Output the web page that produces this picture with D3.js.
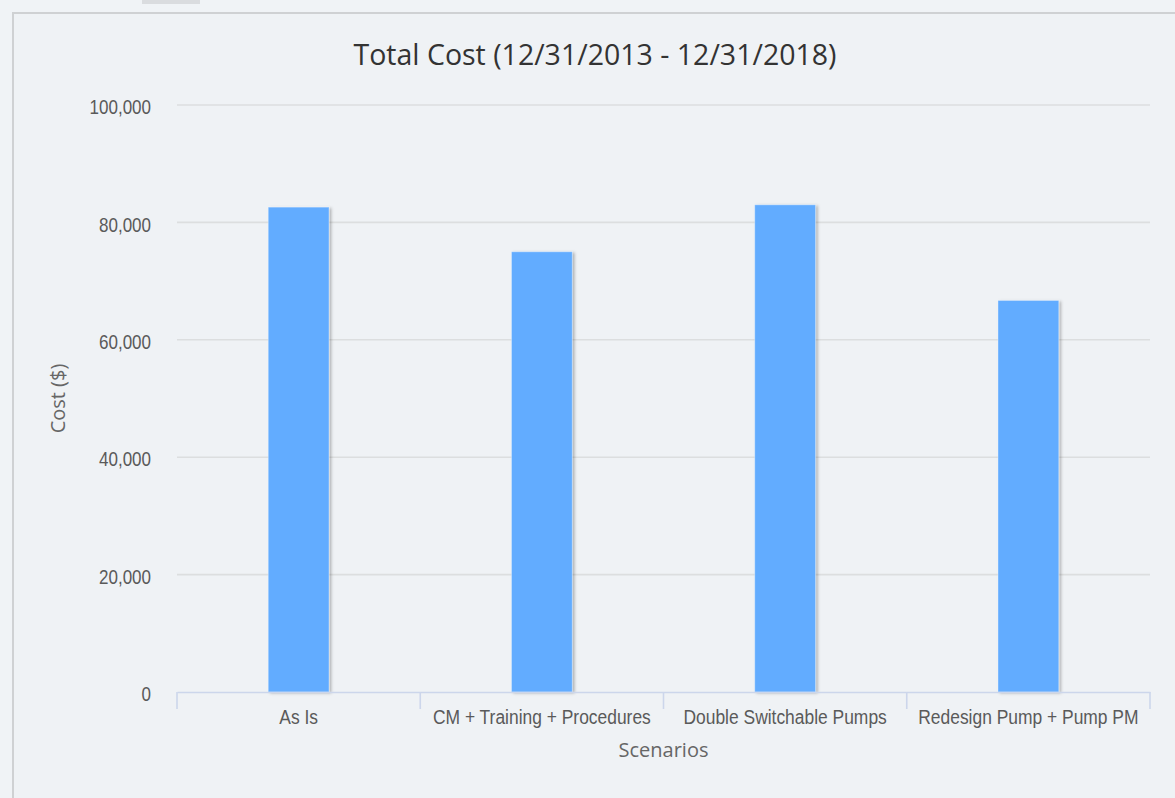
<!DOCTYPE html>
<html>
<head>
<meta charset="utf-8">
<script src="https://cdn.jsdelivr.net/npm/d3@7"></script>
<style>
  html, body { margin: 0; padding: 0; background: #eff2f5; }
  svg { display: block; }
</style>
</head>
<body>
<script>
const categories = ["As Is", "CM + Training + Procedures", "Double Switchable Pumps", "Redesign Pump + Pump PM"];
const costValues = [82600, 75000, 83000, 66700];
const yTicks = [0, 20000, 40000, 60000, 80000, 100000];
const chartTitle = "Total Cost (12/31/2013 - 12/31/2018)";
const xAxisTitle = "Scenarios";
const yAxisTitle = "Cost ($)";

(function () {
const W = 1175, H = 798;
const NARROW = 0.83;
const labelFont = "'Liberation Sans', Arial, sans-serif";
const svg = d3.select("body").append("svg").attr("width", W).attr("height", H);

const defs = svg.append("defs");
const f = defs.append("filter").attr("id", "shadow").attr("x", "-20%").attr("y", "-5%").attr("width", "140%").attr("height", "110%");
f.append("feDropShadow").attr("dx", 2).attr("dy", 1).attr("stdDeviation", 1.4)
  .attr("flood-color", "#000").attr("flood-opacity", 0.28);

// background
svg.append("rect").attr("x", 0).attr("y", 0).attr("width", W).attr("height", H).attr("fill", "#f0f3f6");
svg.append("rect").attr("x", 142).attr("y", 0).attr("width", 58).attr("height", 4).attr("fill", "#dadcdf");
svg.append("rect").attr("x", 13).attr("y", 13).attr("width", W + 10).attr("height", H + 10)
  .attr("fill", "#eff2f5").attr("stroke", "#cfd1d3").attr("stroke-width", 2);

const pLeft = 177, pRight = 1150, pTop = 105, pBottom = 692;
const x = d3.scaleBand().domain(categories).range([pLeft, pRight]).padding(0);
const y = d3.scaleLinear().domain([0, 100000]).range([pBottom, pTop]);

// gridlines
svg.append("g").selectAll("line").data(yTicks.filter(d => d > 0)).join("line")
  .attr("x1", pLeft).attr("x2", pRight)
  .attr("y1", d => y(d)).attr("y2", d => y(d))
  .attr("stroke", "#dcdedf").attr("stroke-width", 1.6);

// y axis labels
const yAxis = d3.axisLeft(y).tickValues(yTicks).tickFormat(d3.format(",")).tickSize(0).tickPadding(26);
const gy = svg.append("g").attr("transform", `translate(${pLeft},0)`).call(yAxis);
gy.select(".domain").remove();
gy.selectAll("text")
  .attr("font-family", labelFont)
  .attr("font-size", 20.5).attr("fill", "#5a5a5a").attr("dy", "0.42em")
  .attr("x", -26 / NARROW)
  .attr("transform", `scale(${NARROW},1)`);

// bars
const barW = x.bandwidth() * 0.25;
svg.append("g").selectAll("rect").data(categories).join("rect")
  .attr("x", (d) => x(d) + x.bandwidth() / 2 - barW / 2)
  .attr("y", (d, i) => y(costValues[i]))
  .attr("width", barW)
  .attr("height", (d, i) => pBottom - y(costValues[i]))
  .attr("fill", "#62acff")
  .attr("stroke", "#ffffff").attr("stroke-opacity", 0.35).attr("stroke-width", 1)
  .attr("filter", "url(#shadow)");

// x axis
const xAxis = d3.axisBottom(x).tickSize(0).tickPadding(14);
const gx = svg.append("g").attr("transform", `translate(0,${pBottom})`).call(xAxis);
gx.select(".domain").attr("stroke", "#ccd6eb").attr("stroke-width", 1.6);
gx.selectAll("text")
  .attr("font-family", labelFont)
  .attr("font-size", 21).attr("fill", "#5a5a5a").attr("dy", "0.88em")
  .attr("transform", `scale(${NARROW},1)`);
// category boundary ticks
const bounds = categories.map(c => x(c)).concat([x(categories[categories.length - 1]) + x.bandwidth()]);
svg.append("g").selectAll("line").data(bounds).join("line")
  .attr("x1", d => d).attr("x2", d => d)
  .attr("y1", pBottom).attr("y2", pBottom + 17)
  .attr("stroke", "#ccd6eb").attr("stroke-width", 1.6);

// titles
svg.append("text").attr("x", 595).attr("y", 65).attr("text-anchor", "middle")
  .attr("font-family", "'Open Sans', sans-serif").attr("font-size", 28.5).attr("fill", "#333333")
  .text(chartTitle);
svg.append("text").attr("x", (pLeft + pRight) / 2).attr("y", 757).attr("text-anchor", "middle")
  .attr("font-family", "'Open Sans', sans-serif").attr("font-size", 20).attr("fill", "#666666")
  .text(xAxisTitle);
svg.append("text").attr("transform", `translate(65,${(pTop + pBottom) / 2}) rotate(-90)`)
  .attr("text-anchor", "middle")
  .attr("font-family", "'Open Sans', sans-serif").attr("font-size", 20).attr("fill", "#666666")
  .text(yAxisTitle);
})();
</script>
</body>
</html>
